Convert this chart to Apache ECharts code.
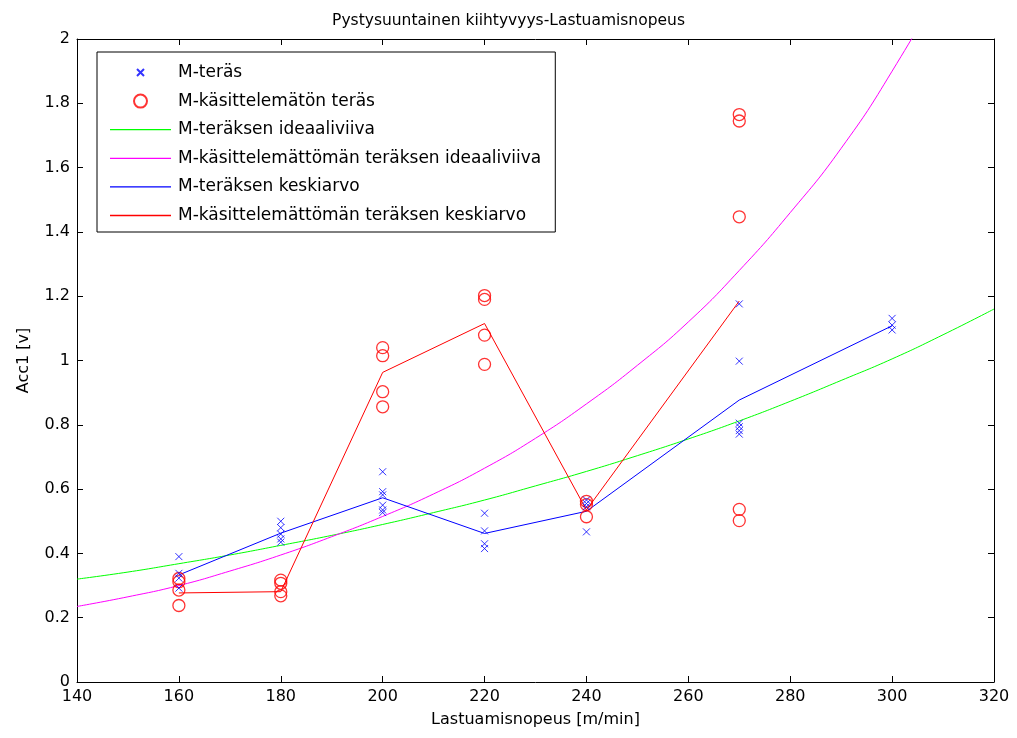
<!DOCTYPE html>
<html><head><meta charset="utf-8">
<script src="https://cdn.jsdelivr.net/npm/echarts@6/dist/echarts.min.js"></script>
<style>html,body{margin:0;padding:0;background:#fff}#c{width:1017px;height:738px}</style>
</head><body><div id="c"></div>
<script>
const titleText = 'Pystysuuntainen kiihtyvyys-Lastuamisnopeus';
const xName = 'Lastuamisnopeus [m/min]';
const yName = 'Acc1 [v]';
const seriesNames = ['M-teräs','M-käsittelemätön teräs','M-teräksen ideaaliviiva','M-käsittelemättömän teräksen ideaaliviiva','M-teräksen keskiarvo','M-käsittelemättömän teräksen keskiarvo'];

// M-teräs measurements
const steelX = [160,160,160,160, 180,180,180,180,180, 200,200,200,200,200,200, 220,220,220,220, 240,240,240,240, 270,270,270,270,270,270, 300,300,300];
const steelY = [0.39,0.338,0.323,0.292, 0.50,0.48,0.46,0.445,0.435, 0.654,0.592,0.582,0.55,0.535,0.527, 0.525,0.47,0.43,0.415, 0.566,0.555,0.545,0.467, 1.176,0.998,0.805,0.794,0.782,0.771, 1.131,1.11,1.095];
// M-käsittelemätön teräs measurements
const rawX = [160,160,160,160, 180,180,180,180, 200,200,200,200, 220,220,220,220, 240,240,240, 270,270,270,270,270];
const rawY = [0.322,0.312,0.286,0.238, 0.317,0.307,0.281,0.268, 1.04,1.015,0.903,0.856, 1.202,1.19,1.079,0.988, 0.562,0.552,0.514, 1.765,1.745,1.447,0.537,0.502];
// ideal lines
const idealX = [140,150,160,170,180,190,200,210,220,230,240,250,260,270,280,290,300,310,320];
const idealSteelY = [0.32,0.342,0.368,0.395,0.425,0.456,0.49,0.527,0.566,0.61,0.655,0.704,0.756,0.812,0.873,0.938,1.005,1.08,1.16];
const idealRawY = [0.235,0.265,0.30,0.345,0.395,0.452,0.515,0.585,0.665,0.758,0.865,0.985,1.12,1.28,1.46,1.66,1.9,2.18,2.5];
// mean lines
const meanX = [160,180,200,220,240,270,300];
const meanSteelY = [0.333,0.463,0.573,0.462,0.531,0.877,1.108];
const meanRawX = [160,180,200,220,240,270];
const meanRawY = [0.277,0.281,0.963,1.115,0.535,1.185];

const pairs = (xs, ys) => xs.map((x, i) => [x, ys[i]]);
const font = 'DejaVu Sans, Verdana, sans-serif';
const crossPath = 'path://M0,0L10,10M10,0L0,10';
// legend icons drawn in a 61x14 box
const legCross = 'path://M0,0L0,0M27,3.5L34,10.5M34,3.5L27,10.5M61,14L61,14';
const legCircle = 'path://M0,0L0,0M24,7A6.5,6.5 0 1,1 37,7A6.5,6.5 0 1,1 24,7ZM61,14L61,14';
const legLine = 'path://M0,0H61V1.3H0Z';

const chart = echarts.init(document.getElementById('c'));
const axisCommon = {
  axisLine: {show: true, onZero: false, lineStyle: {color: '#000', width: 1}},
  axisTick: {show: true, inside: true, length: 6, lineStyle: {color: '#000'}},
  splitLine: {show: false}
};
chart.setOption({
  animation: false,
  backgroundColor: '#fff',
  title: {text: titleText, left: 'center', top: 8, textStyle: {fontFamily: font, fontSize: 15.5, fontWeight: 'normal', color: '#000'}},
  grid: {left: 77, right: 23, top: 39, bottom: 56, containLabel: false},
  legend: {
    orient: 'vertical', left: 97, top: 52,
    data: [
      {name: seriesNames[0], icon: legCross},
      {name: seriesNames[1], icon: legCircle},
      {name: seriesNames[2], icon: legLine},
      {name: seriesNames[3], icon: legLine},
      {name: seriesNames[4], icon: legLine},
      {name: seriesNames[5], icon: legLine}
    ],
    backgroundColor: '#fff', borderColor: '#000', borderWidth: 1,
    padding: [12, 14, 8, 12], itemGap: 11.6, itemWidth: 61, itemHeight: 14,
    textStyle: {fontFamily: font, fontSize: 17, lineHeight: 14, color: '#000', padding: [0, 0, 0, 2]}
  },
  xAxis: [
    Object.assign({type: 'value', min: 140, max: 320, interval: 20, position: 'bottom',
      name: xName, nameLocation: 'middle', nameGap: 30,
      nameTextStyle: {fontFamily: font, fontSize: 16, color: '#000'},
      axisLabel: {fontFamily: font, fontSize: 16, color: '#000', margin: 7}}, axisCommon),
    Object.assign({type: 'value', min: 140, max: 320, interval: 20, position: 'top',
      axisLabel: {show: false}}, axisCommon)
  ],
  yAxis: [
    Object.assign({type: 'value', min: 0, max: 2, interval: 0.2, position: 'left',
      name: yName, nameLocation: 'middle', nameGap: 45, nameRotate: 90,
      nameTextStyle: {fontFamily: font, fontSize: 16, color: '#000'},
      axisLabel: {fontFamily: font, fontSize: 16, color: '#000', margin: 7,
        formatter: v => String(Math.round(v * 10) / 10)}}, axisCommon),
    Object.assign({type: 'value', min: 0, max: 2, interval: 0.2, position: 'right',
      axisLabel: {show: false}}, axisCommon)
  ],
  series: [
    {name: seriesNames[2], type: 'line', data: pairs(idealX, idealSteelY), smooth: true, showSymbol: false, symbol: 'none',
      lineStyle: {color: '#00ff00', width: 1}, itemStyle: {color: '#00ff00'}, z: 2},
    {name: seriesNames[3], type: 'line', data: pairs(idealX, idealRawY), smooth: true, showSymbol: false, symbol: 'none',
      lineStyle: {color: '#ff00ff', width: 1}, itemStyle: {color: '#ff00ff'}, z: 2},
    {name: seriesNames[4], type: 'line', data: pairs(meanX, meanSteelY), showSymbol: false, symbol: 'none',
      lineStyle: {color: '#0000ff', width: 1}, itemStyle: {color: '#0000ff'}, z: 3},
    {name: seriesNames[5], type: 'line', data: pairs(meanRawX, meanRawY), showSymbol: false, symbol: 'none',
      lineStyle: {color: '#ff0000', width: 1}, itemStyle: {color: '#ff0000'}, z: 3},
    {name: seriesNames[1], type: 'scatter', data: pairs(rawX, rawY), symbol: 'circle', symbolSize: 12,
      itemStyle: {color: 'rgba(0,0,0,0)', borderColor: '#ff0000', borderWidth: 1.3}, z: 4},
    {name: seriesNames[0], type: 'scatter', data: pairs(steelX, steelY), symbol: crossPath, symbolSize: 7,
      itemStyle: {color: 'rgba(0,0,0,0)', borderColor: '#0000ff', borderWidth: 1}, z: 5}
  ]
});
</script></body></html>
